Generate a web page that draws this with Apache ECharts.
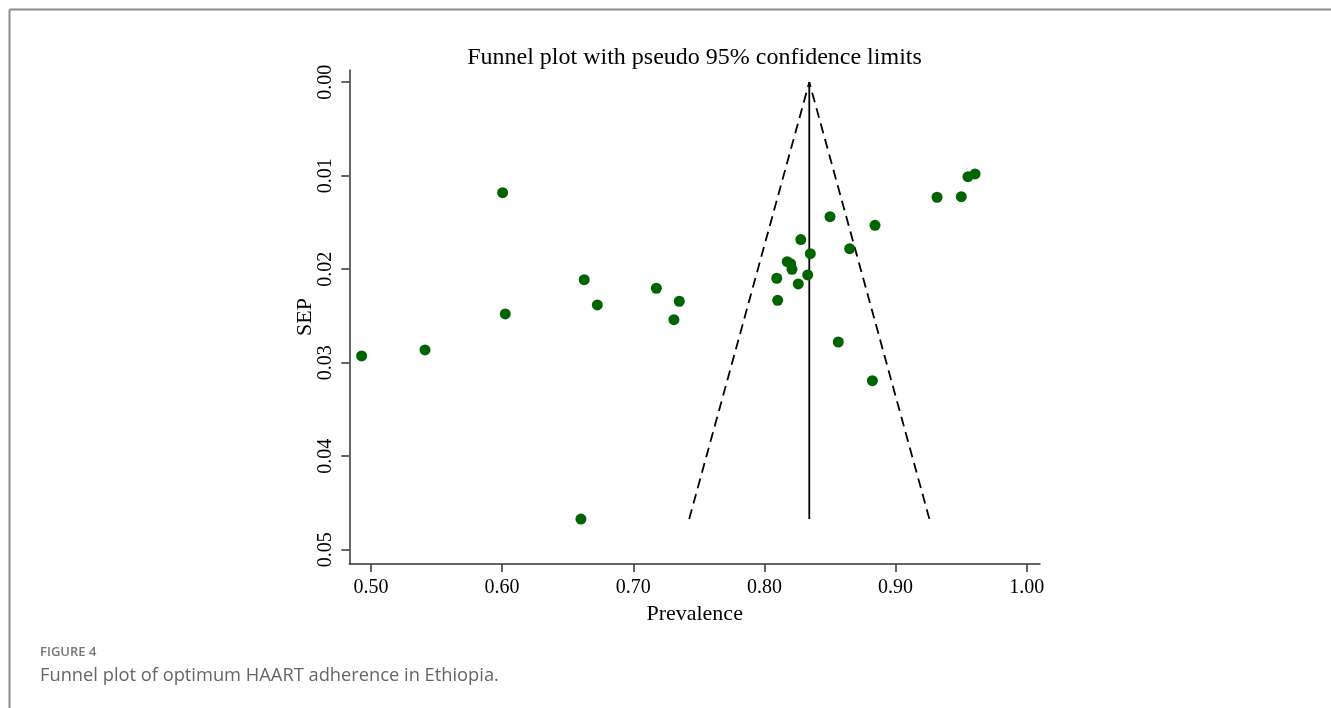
<!DOCTYPE html>
<html>
<head>
<meta charset="utf-8">
<script src="https://cdn.jsdelivr.net/npm/echarts@6/dist/echarts.min.js"></script>
<style>
html,body{margin:0;padding:0;background:#fff;}
#chart{width:1331px;height:708px;}
</style>
</head>
<body>
<div id="chart"></div>
<script>
// Study estimates: prevalence and standard error (SEP)
const prevalence = [0.4929,0.5412,0.6004,0.6024,0.6626,0.6726,0.6601,0.7176,0.7351,0.7310,
  0.8094,0.8101,0.8174,0.8200,0.8210,0.8277,0.8258,0.8330,0.8350,0.8500,
  0.8650,0.8563,0.8843,0.8823,0.9316,0.9501,0.9552,0.9606];
const sep = [0.02928,0.02864,0.01182,0.02479,0.02112,0.02383,0.04672,0.02204,0.02343,0.02540,
  0.02097,0.02333,0.01920,0.01941,0.02001,0.01684,0.02158,0.02062,0.01834,0.01439,
  0.01781,0.02779,0.01531,0.03193,0.01231,0.01225,0.01011,0.00982];
// Funnel parameters
const pooled = 0.8342;
const seMax = 0.04672;
const z = 1.96;
// Tick labels
const xTicks = [0.50,0.60,0.70,0.80,0.90,1.00];
const yTicks = [0.00,0.01,0.02,0.03,0.04,0.05];

const points = prevalence.map((p,i)=>[p, sep[i]]);
const vertLine = [[pooled,0],[pooled,seMax]];
const funnel = [[pooled - z*seMax, seMax],[pooled,0],[pooled + z*seMax, seMax]];

const serif = '"Liberation Serif","Times New Roman",serif';
const chart = echarts.init(document.getElementById('chart'));
chart.setOption({
  animation:false,
  backgroundColor:'#fff',
  title:{
    text:'Funnel plot with pseudo 95% confidence limits',
    left:689.5, top:41, textAlign:'center',
    textStyle:{fontFamily:serif,fontSize:24,fontWeight:'normal',color:'#000'}
  },
  grid:{left:349.3,right:291,top:70,bottom:144,containLabel:false},
  xAxis:{
    type:'value', min:0.4835, max:1.0101, position:'bottom',
    name:'Prevalence', nameLocation:'middle', nameGap:39, nameMoveOverlap:false,
    nameTextStyle:{fontFamily:serif,fontSize:22,color:'#000'},
    axisLine:{show:true,onZero:false,lineStyle:{color:'#333',width:1.5}},
    axisTick:{show:true,inside:false,length:8,customValues:xTicks,lineStyle:{color:'#333',width:1.5}},
    axisLabel:{customValues:xTicks,fontFamily:serif,fontSize:20,color:'#000',margin:14,
      formatter:v=>v.toFixed(2)},
    splitLine:{show:false}
  },
  yAxis:{
    type:'value', inverse:true, min:-0.0013, max:0.05153, position:'left',
    name:'SEP', nameLocation:'middle', nameGap:33, nameRotate:90, nameMoveOverlap:false,
    nameTextStyle:{fontFamily:serif,fontSize:22,color:'#000'},
    axisLine:{show:true,onZero:false,lineStyle:{color:'#333',width:1.5}},
    axisTick:{show:true,inside:false,length:8,customValues:yTicks,lineStyle:{color:'#333',width:1.5}},
    axisLabel:{customValues:yTicks,fontFamily:serif,fontSize:20,color:'#000',margin:14,rotate:90,
      formatter:v=>v.toFixed(2)},
    splitLine:{show:false}
  },
  series:[
    {type:'line',data:vertLine,symbol:'none',lineStyle:{color:'#000',width:1.8},z:2,silent:true},
    {type:'line',data:funnel,symbol:'none',lineStyle:{color:'#000',width:1.8,type:[10,6]},z:2,silent:true},
    {type:'scatter',data:points,symbol:'circle',symbolSize:11,itemStyle:{color:'#006400',opacity:1},z:3}
  ],
  graphic:[
    {type:'line',shape:{x1:9.5,y1:9.5,x2:1331,y2:9.5},style:{stroke:'#8c8c8c',lineWidth:2}},
    {type:'line',shape:{x1:9.5,y1:9.5,x2:9.5,y2:708},style:{stroke:'#8c8c8c',lineWidth:2}},
    {type:'text',left:40,top:646,style:{text:'FIGURE 4',font:'600 13px "Open Sans", sans-serif',fill:'#777'}},
    {type:'text',left:40,top:667,style:{text:'Funnel plot of optimum HAART adherence in Ethiopia.',font:'18.3px "Open Sans", sans-serif',fill:'#666'}}
  ]
});
</script>
</body>
</html>
